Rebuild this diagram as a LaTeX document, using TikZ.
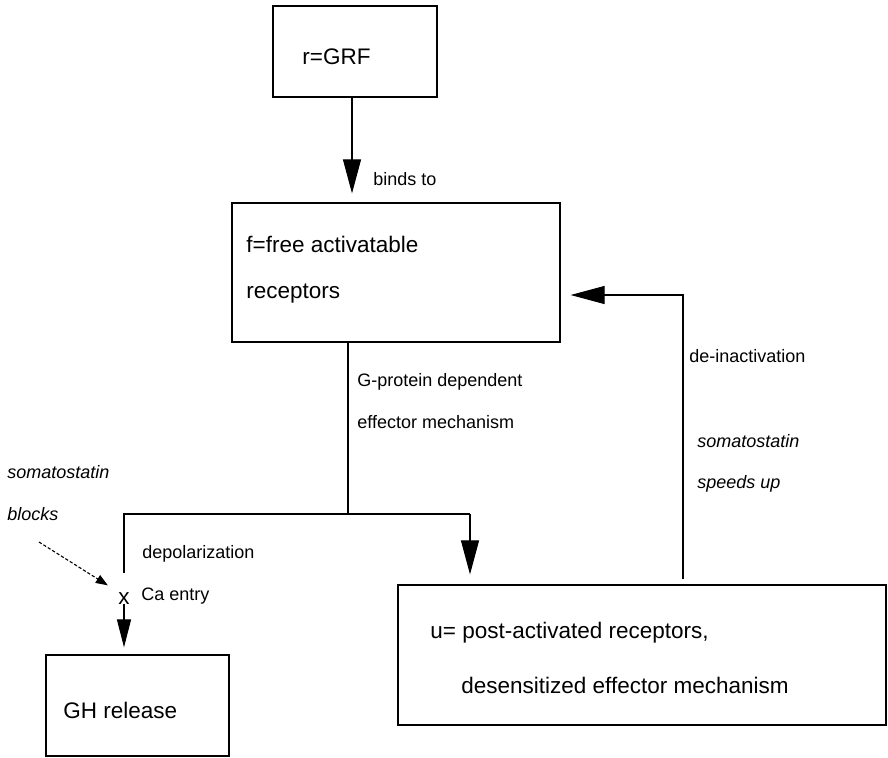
\documentclass[tikz,border=0pt]{standalone}
\usepackage{fontspec}
\setmainfont{Liberation Sans}
\usepackage{tikz}
\usetikzlibrary{arrows.meta,positioning,fit,calc}
\tikzset{
  box/.style={draw,line width=0.6pt,inner sep=0pt},
  boxtext/.style={anchor=base west,inner sep=0pt,font=\fontsize{11.25pt}{13pt}\selectfont},
  note/.style={anchor=base west,inner sep=0pt,font=\fontsize{9pt}{11pt}\selectfont},
  remark/.style={note,font=\fontsize{9pt}{11pt}\selectfont\itshape},
  link/.style={line width=0.55pt},
  bigflow/.style={link,-{Triangle[length=17pt,width=9pt]}},
  blockflow/.style={link,dash pattern=on 1.6pt off 1pt,-{Triangle[length=6pt,width=4.5pt]}}
}
\begin{document}
\begin{tikzpicture}[x=0.5pt,y=-0.5pt]
  \useasboundingbox (0,0) rectangle (888,757);
  \node[box,fit={(273,6) (437,97)}] (grf) {};
  \node[box,fit={(232,203) (560,342)}] (free) {};
  \node[box,fit={(46,655) (229,756)}] (gh) {};
  \node[box,fit={(398,585) (886,725)}] (post) {};
  \node[boxtext] (grftext) at (302,64) {r=GRF};
  \node[boxtext] (freetext) at (246,252) {f=free activatable};
  \node[boxtext] (freetext2) at (246,298) {receptors};
  \node[boxtext] (posttext) at (430,638) {u= post-activated receptors,};
  \node[boxtext] (posttext2) at (461,693) {desensitized effector mechanism};
  \node[boxtext] (ghtext) at (63,718) {GH release};
  \node[note] (binds) at (373,185) {binds to};
  \node[note] (gprot) at (357,386) {G-protein dependent};
  \node[note] (effect) at (357,428) {effector mechanism};
  \node[note] (deinact) at (689,362) {de-inactivation};
  \node[remark] (somaup) at (697,447) {somatostatin};
  \node[remark] (speeds) at (697,488) {speeds up};
  \node[remark] (somablock) at (7,478) {somatostatin};
  \node[remark] (blocks) at (7,520) {blocks};
  \node[note] (depol) at (142,558) {depolarization};
  \node[note] (caentry) at (141,600) {Ca entry};
  \node[boxtext,anchor=base] (xmark) at (124,604) {x};
  \coordinate (grfout) at (352,97);
  \coordinate (split) at (348,514);
  \coordinate (lcorner) at (124,514);
  \coordinate (rcorner) at (470,514);
  \coordinate (lend) at (124,573);
  \coordinate (fbtop) at (683,295);
  \coordinate (blockfrom) at (39,542);
  \draw[bigflow,shorten >=4.5pt] (grfout) -- (grfout |- free.north);
  \draw[link] (free.south -| split) -- (split);
  \draw[link] (lend) -- (lcorner) -- (rcorner);
  \draw[bigflow,shorten >=5pt] (rcorner) -- (rcorner |- post.north);
  \draw[bigflow,-{Triangle[length=14pt,width=7pt]},shorten >=3.5pt] (xmark.south) -- (gh.north -| xmark);
  \draw[bigflow,shorten <=2.5pt,shorten >=5pt] (post.north -| fbtop) -- (fbtop) -- (free.east |- fbtop);
  \draw[blockflow,shorten >=6pt] (blockfrom) -- (xmark.north west);
\end{tikzpicture}
\end{document}
